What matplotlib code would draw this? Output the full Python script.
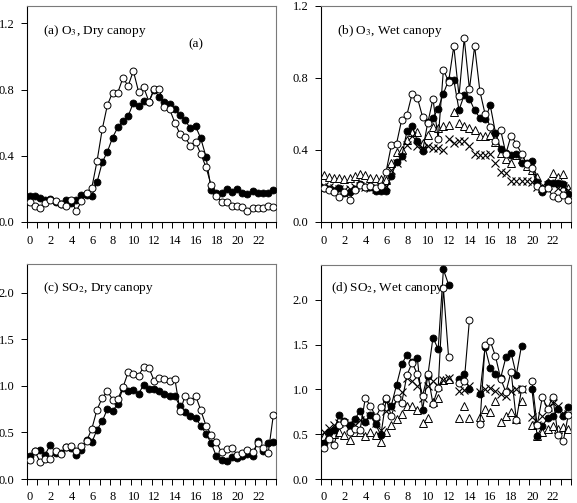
import numpy as np
import matplotlib
matplotlib.use("Agg")
import matplotlib.pyplot as plt
from matplotlib.transforms import ScaledTranslation

plt.rcParams['font.family'] = ['Liberation Serif', 'DejaVu Serif']
plt.rcParams['mathtext.fontset'] = 'stix'

nan = np.nan
# half-hour bins (centre of each bin, hours)
hours = np.arange(48) * 0.5 + 0.25

# (a) O3, dry canopy
o3_dry_filled = [0.155, 0.155, 0.148, 0.133, 0.140, 0.122, 0.110, 0.135, 0.117, 0.130,
                 0.162, 0.162, 0.160, 0.240, 0.360, 0.425, 0.510, 0.572, 0.612, 0.640,
                 0.720, 0.700, 0.730, 0.725, 0.800, 0.755, 0.727, 0.713, 0.680, 0.645,
                 0.615, 0.565, 0.578, 0.505, 0.395, 0.196, 0.178, 0.178, 0.200, 0.182,
                 0.202, 0.178, 0.168, 0.185, 0.175, 0.175, 0.178, 0.192]
o3_dry_open = [0.120, 0.095, 0.087, 0.115, 0.130, 0.125, 0.110, 0.095, 0.130, 0.067,
               0.125, 0.176, 0.208, 0.368, 0.560, 0.707, 0.782, 0.782, 0.871, 0.822,
               0.913, 0.788, 0.814, 0.727, 0.802, 0.802, 0.693, 0.681, 0.600, 0.531,
               0.511, 0.459, 0.485, 0.410, 0.333, 0.222, 0.156, 0.123, 0.123, 0.095,
               0.095, 0.091, 0.067, 0.085, 0.085, 0.085, 0.095, 0.091]

# (b) O3, wet canopy
o3_wet_filled = [0.187, 0.181, 0.174, 0.187, 0.162, 0.168, 0.181, 0.211, 0.192, 0.192,
                 0.174, 0.174, 0.174, 0.256, 0.332, 0.364, 0.504, 0.536, 0.448, 0.392,
                 0.554, 0.579, 0.629, 0.713, 0.788, 0.788, 0.622, 0.706, 0.685, 0.620,
                 0.579, 0.573, 0.648, 0.495, 0.405, 0.386, 0.373, 0.377, 0.330, 0.327,
                 0.340, 0.220, 0.165, 0.218, 0.218, 0.215, 0.211, 0.155]
o3_wet_open = [0.187, 0.178, 0.165, 0.140, 0.165, 0.125, 0.180, 0.205, 0.195, 0.200,
               0.190, 0.200, 0.280, 0.426, 0.435, 0.569, 0.596, 0.713, 0.691, 0.584,
               0.550, 0.685, 0.461, 0.845, 0.780, 0.977, 0.700, 1.021, 0.737, 0.977,
               0.728, 0.600, 0.528, 0.450, 0.510, 0.380, 0.480, 0.435, 0.379, 0.320,
               0.300, 0.200, 0.181, 0.190, 0.144, 0.135, 0.150, 0.125]
o3_wet_tri = [0.261, 0.252, 0.243, 0.243, 0.240, 0.243, 0.255, 0.267, 0.262, 0.245,
              0.245, 0.240, 0.235, 0.327, 0.390, 0.400, 0.457, 0.500, 0.498, 0.440,
              0.485, 0.528, 0.520, 0.532, 0.541, 0.610, 0.550, 0.535, 0.520, 0.510,
              0.475, 0.475, 0.485, 0.442, 0.384, 0.350, 0.330, 0.370, 0.350, 0.310,
              0.290, 0.248, 0.190, 0.220, 0.270, 0.250, 0.268, 0.190]
o3_wet_cross = [0.200, 0.195, 0.190, 0.185, 0.180, 0.185, 0.195, 0.200, 0.195, 0.190,
                0.185, 0.190, 0.200, 0.290, 0.330, 0.360, 0.430, 0.480, 0.420, 0.410,
                0.420, 0.410, 0.410, 0.400, 0.461, 0.440, 0.450, 0.450, 0.420, 0.380,
                0.370, 0.370, 0.380, 0.327, 0.280, 0.270, 0.230, 0.230, 0.230, 0.230,
                0.220, 0.195, 0.200, 0.205, 0.210, 0.190, 0.200, 0.180]

# (c) SO2, dry canopy
so2_dry_filled = [0.244, 0.297, 0.315, 0.262, 0.369, 0.280, 0.280, 0.344, 0.333, 0.254,
                  0.308, 0.416, 0.394, 0.530, 0.620, 0.753, 0.728, 0.810, 0.978, 0.950,
                  0.960, 0.914, 1.014, 0.968, 0.968, 0.943, 0.918, 0.896, 0.889, 0.780,
                  0.720, 0.674, 0.656, 0.573, 0.484, 0.387, 0.244, 0.200, 0.190, 0.237,
                  0.226, 0.244, 0.272, 0.250, 0.405, 0.297, 0.387, 0.394]
so2_dry_open = [0.200, 0.300, 0.186, 0.210, 0.215, 0.300, 0.270, 0.344, 0.358, 0.300,
                0.350, 0.410, 0.540, 0.745, 0.870, 0.943, 0.853, 0.860, 0.985, 1.147,
                1.133, 1.111, 1.204, 1.194, 1.057, 1.086, 1.079, 1.057, 1.079, 0.728,
                0.896, 0.835, 0.896, 0.738, 0.573, 0.477, 0.394, 0.287, 0.323, 0.333,
                0.262, 0.280, 0.315, 0.287, 0.387, 0.333, 0.280, 0.692]

# (d) SO2, wet canopy
so2_wet_filled = [0.40, 0.53, 0.55, 0.71, 0.65, 0.60, 0.67, 0.76, 0.64, 0.71,
                  0.61, 0.49, 0.89, 0.82, 1.05, 1.28, 1.39, 1.31, 1.35, 0.77,
                  1.15, 1.58, 1.45, 2.34, 2.17, nan, 1.12, 1.17, 1.00, nan,
                  0.95, 1.47, 1.24, 1.17, 1.13, 1.36, 1.41, 1.16, 1.49, nan,
                  1.00, 0.48, 0.59, 0.68, 0.70, 0.78, 0.70, 0.80]
so2_wet_open = [0.35, 0.45, 0.38, 0.60, 0.64, 0.53, 0.56, 0.55, 0.90, 0.82,
                0.69, 0.80, 0.90, 0.70, 0.90, 0.85, 1.16, 1.30, 1.17, 0.93,
                1.17, 0.84, 1.02, 2.13, 1.36, nan, 1.07, 1.09, 1.78, nan,
                0.61, 1.50, 1.54, 1.37, 1.12, 0.97, 1.20, 0.66, 1.00, nan,
                1.10, 0.60, 0.92, 0.78, 0.92, 0.49, 0.42, 0.72]
so2_wet_tri = [0.48, 0.46, 0.50, 0.53, 0.49, 0.43, 0.52, 0.52, 0.48, 0.53,
               0.49, 0.41, 0.52, 0.60, 0.67, 0.73, 0.81, 0.81, 0.77, 0.62,
               0.68, 0.86, 0.91, 1.11, 1.12, nan, 0.68, 0.81, 0.68, nan,
               0.69, 0.78, 0.75, 0.87, 0.64, 0.70, 0.75, 0.67, 0.87, nan,
               0.60, 0.48, 0.53, 0.56, 0.59, 0.56, 0.58, 0.56]
so2_wet_cross = [0.52, 0.57, 0.60, 0.62, 0.63, 0.58, 0.60, 0.66, 0.66, 0.70,
                 0.63, 0.55, 0.76, 0.80, 0.88, 0.97, 1.13, 1.09, 1.04, 0.91,
                 1.04, 1.09, 1.04, 1.11, 1.13, nan, 0.98, 0.99, 1.04, nan,
                 0.97, 1.00, 1.02, 0.98, 0.95, 0.93, 0.98, 1.00, 1.01, nan,
                 0.69, 0.60, 0.70, 0.80, 0.85, 0.82, 0.74, 0.73]

panel_titles = [r"(a) O$_3$, Dry canopy", r"(b) O$_3$, Wet canopy",
                r"(c) SO$_2$, Dry canopy", r"(d) SO$_2$, Wet canopy"]
xtick_labels = [str(h) for h in range(0, 24, 2)]

W, H = 577, 503
fig = plt.figure(figsize=(W / 100, H / 100), dpi=100)

def px_axes(l, t, r, b):
    return fig.add_axes([l / W, 1 - b / H, (r - l) / W, (b - t) / H])

axa = px_axes(27, 6, 276, 222)
axb = px_axes(321, 6, 571, 222)
axc = px_axes(27, 264, 276, 479)
axd = px_axes(321, 265, 571, 479)

lw = 0.8
ms = 5.0

def filled(ax, y):
    ax.plot(hours, y, '-o', color='black', lw=lw, ms=ms, mfc='black', mec='black', mew=0.6, zorder=3)

def opencirc(ax, y):
    ax.plot(hours, y, '-o', color='black', lw=lw, ms=ms, mfc='white', mec='black', mew=0.7, zorder=4)

def tri(ax, y):
    ax.plot(hours, y, '^', color='black', ms=5.5, mfc='white', mec='black', mew=0.7, ls='none', zorder=2)

def cross(ax, y):
    ax.plot(hours, y, 'x', color='black', ms=5.5, mew=0.8, ls='none', zorder=2)

opencirc(axa, o3_dry_open); filled(axa, o3_dry_filled)
tri(axb, o3_wet_tri); cross(axb, o3_wet_cross)
filled(axb, o3_wet_filled); opencirc(axb, o3_wet_open)
opencirc(axc, so2_dry_open); filled(axc, so2_dry_filled)
tri(axd, so2_wet_tri); cross(axd, so2_wet_cross)
opencirc(axd, so2_wet_open); filled(axd, so2_wet_filled)

offset = ScaledTranslation(3 / 100, 0, fig.dpi_scale_trans)
for ax in (axa, axb, axc, axd):
    ax.set_xlim(0, 24)
    ax.set_xticks(np.arange(0, 25, 1), minor=True)
    ax.set_xticks(np.arange(0, 24, 2))
    ax.set_xticklabels(xtick_labels)
    ax.tick_params(axis='both', which='both', direction='out', length=4, width=0.7,
                   labelsize=9, top=False, right=False)
    ax.tick_params(axis='x', pad=5)
    ax.tick_params(axis='y', pad=5)
    for lab in ax.get_xticklabels():
        lab.set_transform(lab.get_transform() + offset)
    for s in ('left', 'bottom'):
        ax.spines[s].set_color('black'); ax.spines[s].set_linewidth(0.8)
    for s in ('top', 'right'):
        ax.spines[s].set_color('#7a7a7a'); ax.spines[s].set_linewidth(0.8)

for ax in (axa, axb):
    ax.set_yticks([0.0, 0.4, 0.8, 1.2])
    ax.set_yticklabels(['0.0', '0.4', '0.8', '1.2'])
axa.set_ylim(0, 1.305)
axb.set_ylim(0, 1.2)
for ax in (axc, axd):
    ax.set_yticks([0.0, 0.5, 1.0, 1.5, 2.0])
    ax.set_yticklabels(['0.0', '0.5', '1.0', '1.5', '2.0'])
axc.set_ylim(0, 2.31)
axd.set_ylim(0, 2.39)

fs = 9.5
axa.text(0.064, 0.884, panel_titles[0], transform=axa.transAxes, fontsize=fs, va='center', ha='left')
axa.text(0.679, 0.824, "(a)", transform=axa.transAxes, fontsize=fs, va='center', ha='center')
axb.text(0.064, 0.884, panel_titles[1], transform=axb.transAxes, fontsize=fs, va='center', ha='left')
axc.text(0.064, 0.89, panel_titles[2], transform=axc.transAxes, fontsize=fs, va='center', ha='left')
axd.text(0.04, 0.892, panel_titles[3], transform=axd.transAxes, fontsize=fs, va='center', ha='left', zorder=5)

fig.savefig("out.png", dpi=100)
